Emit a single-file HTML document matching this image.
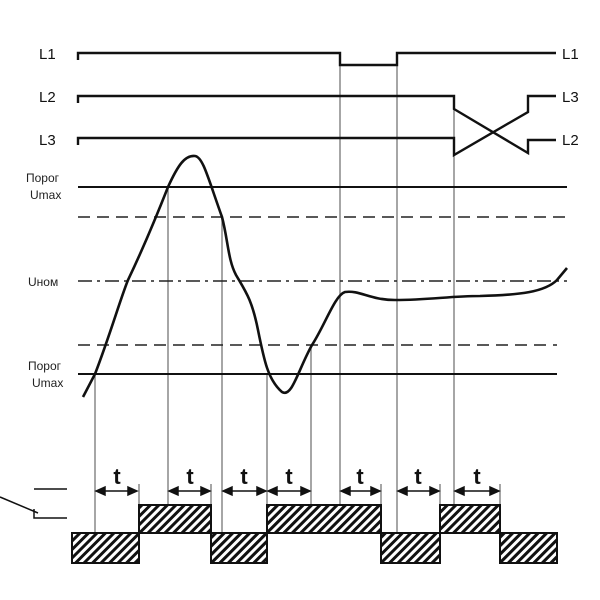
<!DOCTYPE html>
<html><head><meta charset="utf-8"><style>body{margin:0;background:#fff}svg{display:block}</style></head><body>
<svg width="600" height="600" viewBox="0 0 600 600" xmlns="http://www.w3.org/2000/svg" font-family="Liberation Sans, DejaVu Sans, sans-serif">
<defs>
<pattern id="h" width="6" height="6" patternUnits="userSpaceOnUse" patternTransform="rotate(45)">
<rect width="6" height="6" fill="#fff"/><rect width="3" height="6" fill="#111"/>
</pattern>
</defs>
<rect width="600" height="600" fill="#fff"/>
<g stroke="#777" stroke-width="1.3" fill="none">
<line x1="95" y1="374" x2="95" y2="533"/>
<line x1="168" y1="187" x2="168" y2="505"/>
<line x1="222" y1="217" x2="222" y2="533"/>
<line x1="267" y1="374" x2="267" y2="505"/>
<line x1="311" y1="345" x2="311" y2="505"/>
<line x1="340" y1="65" x2="340" y2="505"/>
<line x1="397" y1="65" x2="397" y2="533"/>
<line x1="454" y1="109" x2="454" y2="505"/>
<line x1="139" y1="484" x2="139" y2="505"/>
<line x1="211" y1="484" x2="211" y2="505"/>
<line x1="381" y1="484" x2="381" y2="505"/>
<line x1="440" y1="484" x2="440" y2="505"/>
<line x1="500" y1="484" x2="500" y2="505"/>
</g>
<g stroke="#111" stroke-width="2.4" fill="none">
<polyline points="78,60 78,53 340,53 340,65 397,65 397,53 556,53"/>
<polyline points="78,103 78,96 454,96 454,109 528,153 528,140 556,140"/>
<polyline points="78,145 78,138 454,138 454,155 528,112 528,96 556,96"/>
<line x1="78" y1="187" x2="567" y2="187" stroke-width="2"/>
<line x1="78" y1="374" x2="557" y2="374" stroke-width="2"/>
</g>
<g stroke="#222" stroke-width="1.5" fill="none">
<line x1="78" y1="217" x2="567" y2="217" stroke-dasharray="12,7"/>
<line x1="78" y1="345" x2="557" y2="345" stroke-dasharray="12,7"/>
<line x1="78" y1="281" x2="567" y2="281" stroke-dasharray="14,5,3,5"/>
</g>
<path d="M83,397 L95,374 C110,335 120,300 128,280 C140,255 155,220 168,187 C178,165 185,155 195,156 C203,157 208,178 222,217 C228,240 228,260 236,275 C246,292 252,300 258,330 C264,360 268,380 282,392 C292,398 298,370 312,345 C325,325 335,295 345,292 C360,290 370,300 395,300 C430,300 450,296 480,296 C520,295 545,292 557,280 L567,268" stroke="#111" stroke-width="2.6" fill="none"/>
<g fill="#111" font-size="15">
<text x="562" y="59">L1</text>
<text x="562" y="102">L3</text>
<text x="562" y="145">L2</text>
<text x="39" y="59">L1</text>
<text x="39" y="102">L2</text>
<text x="39" y="145">L3</text>
</g>
<g fill="#222" font-size="12">
<text x="26" y="182">Порог</text><text x="30" y="199">Umax</text>
<text x="28" y="286">Uном</text>
<text x="28" y="370">Порог</text><text x="32" y="387">Umax</text>
</g>
<g stroke="#111" stroke-width="2" fill="url(#h)">
<rect x="72" y="533" width="67" height="30"/>
<rect x="139" y="505" width="72" height="28"/>
<rect x="211" y="533" width="56" height="30"/>
<rect x="267" y="505" width="114" height="28"/>
<rect x="381" y="533" width="59" height="30"/>
<rect x="440" y="505" width="60" height="28"/>
<rect x="500" y="533" width="57" height="30"/>
</g>
<g stroke="#111" stroke-width="1.5" fill="none">
<line x1="0" y1="497" x2="38" y2="513"/>
<polyline points="34,509 34,518 67,518"/>
<line x1="34" y1="489" x2="67" y2="489"/>
</g>
<g stroke="#111" stroke-width="1.5" fill="#111">
<line x1="100" y1="491" x2="134" y2="491"/><path d="M96,491 l9,-4 v8z M137,491 l-9,-4 v8z"/>
<line x1="173" y1="491" x2="206" y2="491"/><path d="M169,491 l9,-4 v8z M210,491 l-9,-4 v8z"/>
<line x1="227" y1="491" x2="262" y2="491"/><path d="M223,491 l9,-4 v8z M266,491 l-9,-4 v8z"/>
<line x1="272" y1="491" x2="306" y2="491"/><path d="M268,491 l9,-4 v8z M310,491 l-9,-4 v8z"/>
<line x1="345" y1="491" x2="376" y2="491"/><path d="M341,491 l9,-4 v8z M380,491 l-9,-4 v8z"/>
<line x1="402" y1="491" x2="435" y2="491"/><path d="M398,491 l9,-4 v8z M439,491 l-9,-4 v8z"/>
<line x1="459" y1="491" x2="495" y2="491"/><path d="M455,491 l9,-4 v8z M499,491 l-9,-4 v8z"/>
</g>
<g fill="#111" font-size="22" font-weight="bold" text-anchor="middle">
<text x="117" y="484">t</text><text x="190" y="484">t</text><text x="244" y="484">t</text>
<text x="289" y="484">t</text><text x="360" y="484">t</text><text x="418" y="484">t</text><text x="477" y="484">t</text>
</g>
</svg>
</body></html>
